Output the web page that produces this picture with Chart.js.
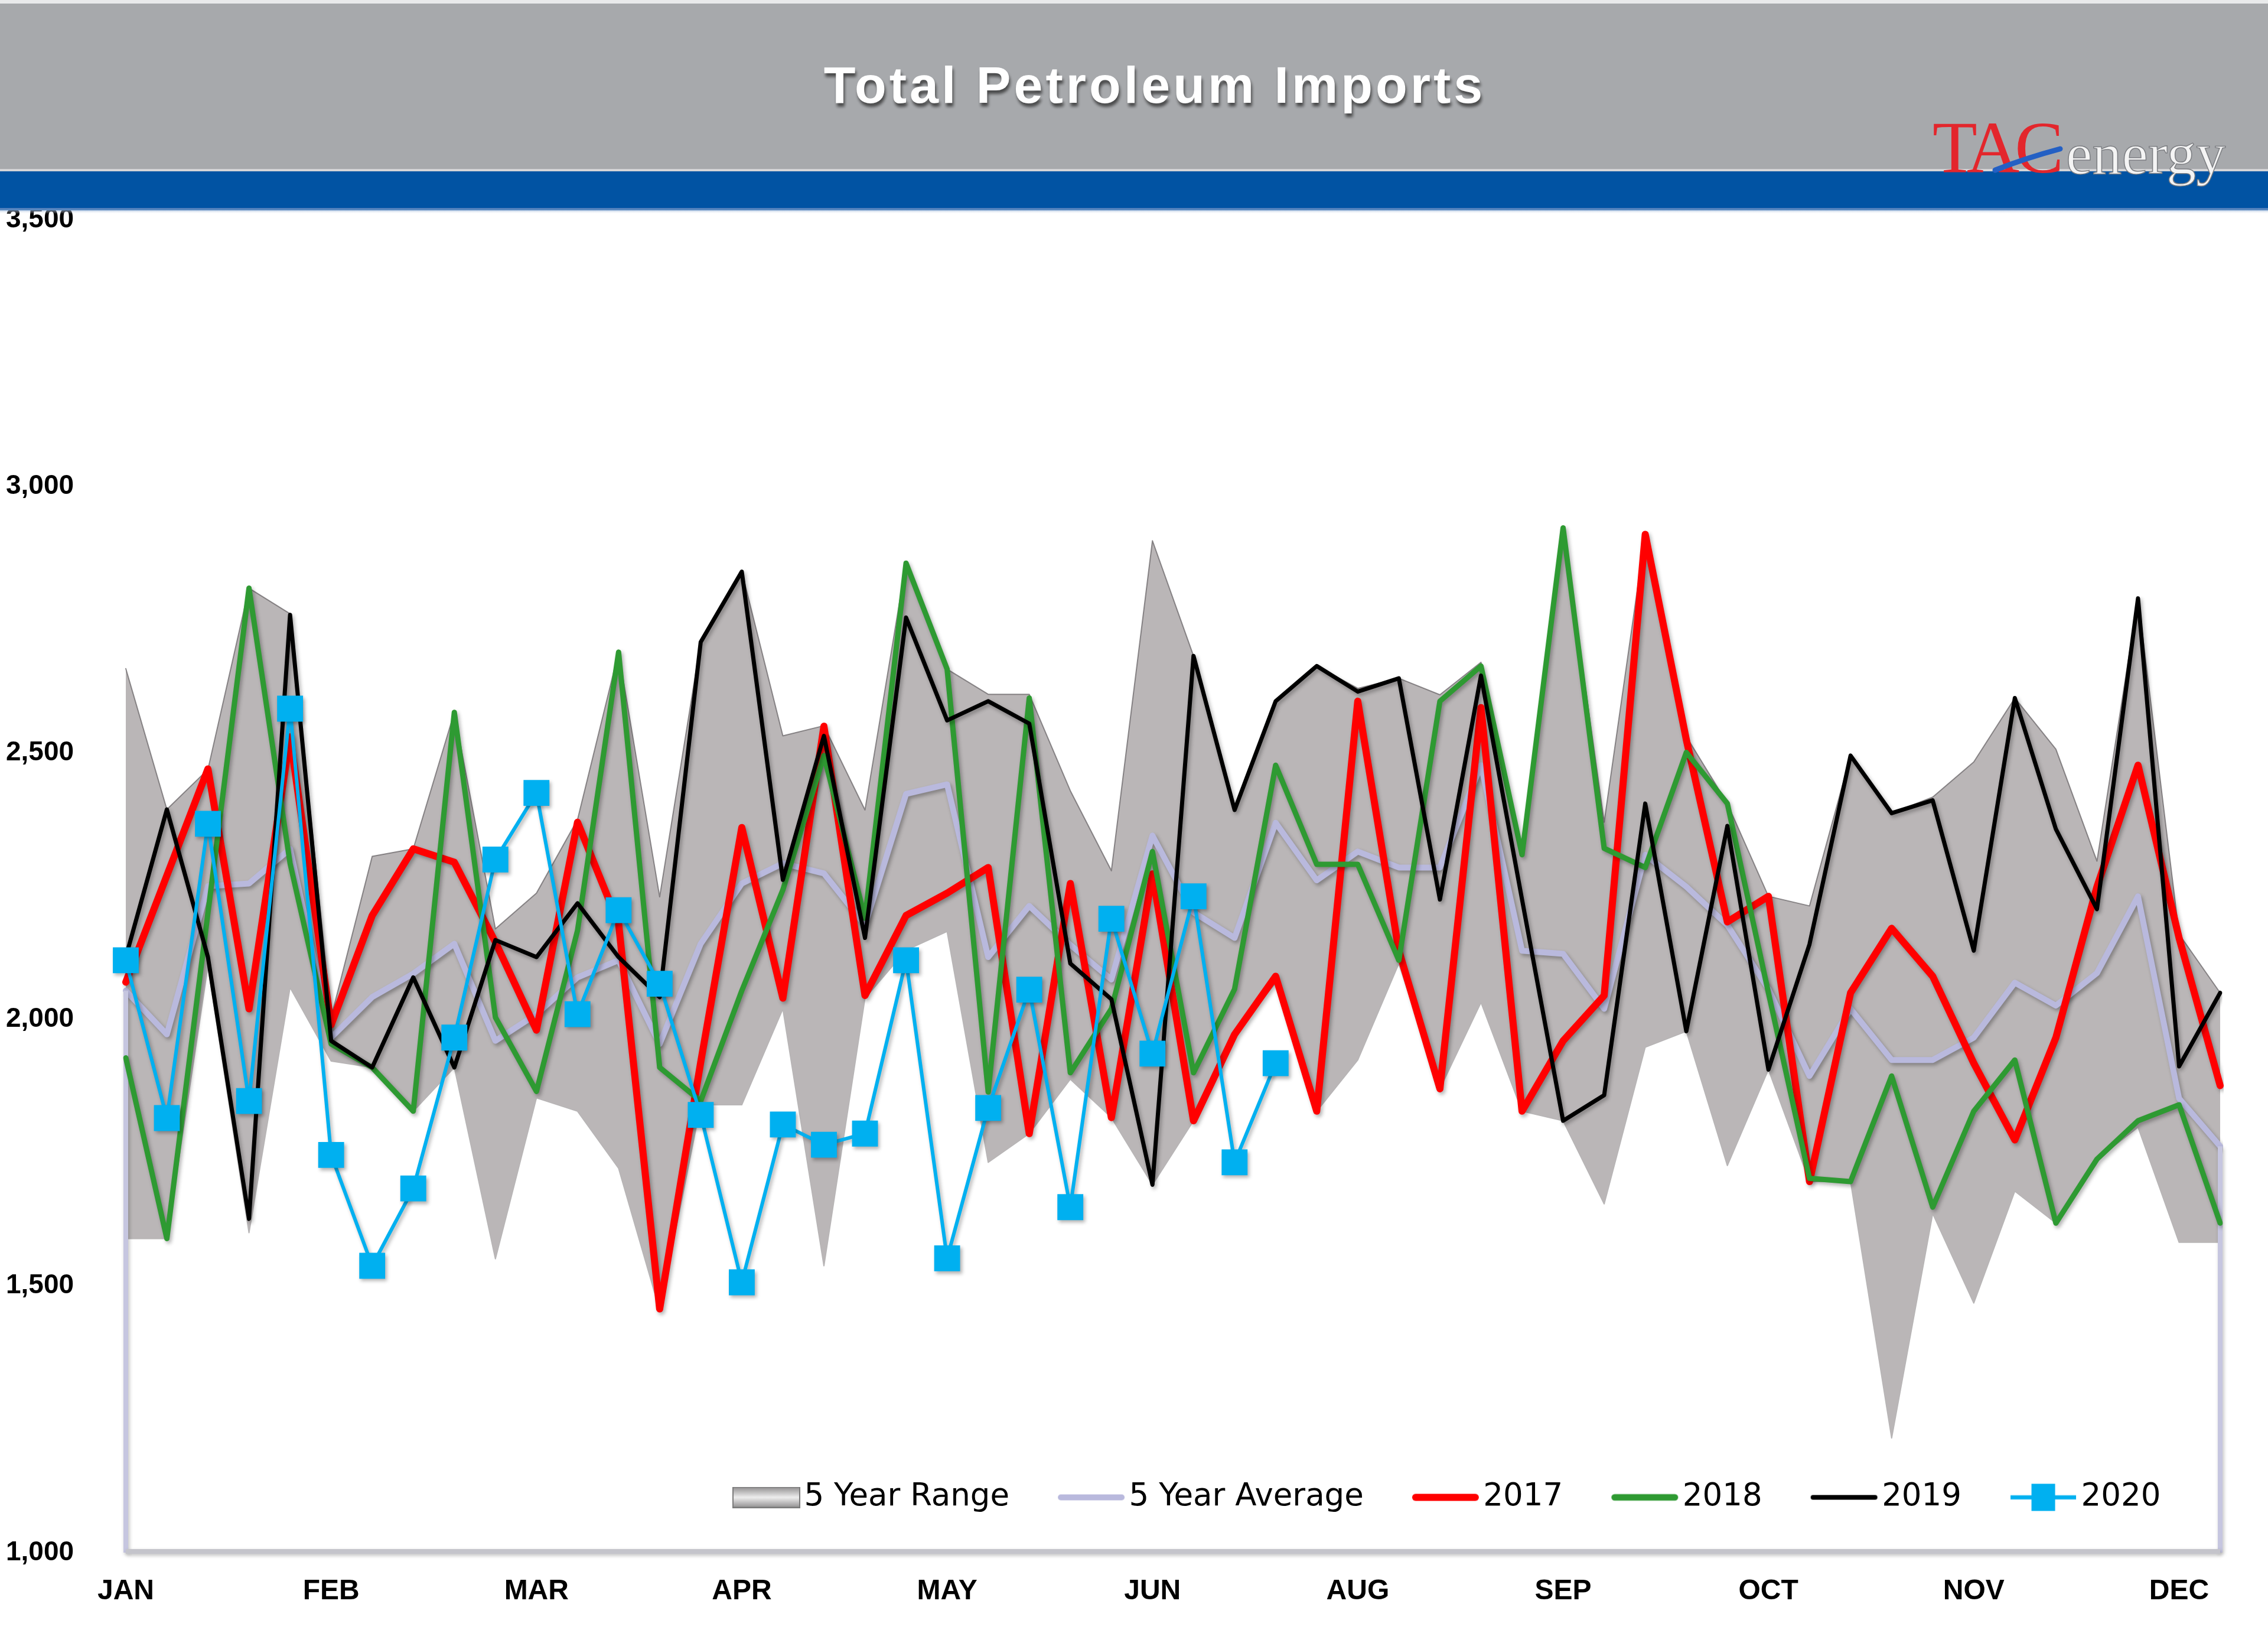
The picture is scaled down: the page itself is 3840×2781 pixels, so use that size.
<!DOCTYPE html>
<html>
<head>
<meta charset="utf-8">
<script src="https://cdn.jsdelivr.net/npm/chart.js@4.4.1/dist/chart.umd.min.js"></script>
<style>
html,body{margin:0;padding:0;background:#ffffff;}
canvas{display:block;}
</style>
</head>
<body>
<canvas id="c" width="3840" height="2781"></canvas>
<script>
// ---- DATA ----
const weeks = ['1','2','3','4','5','6','7','8','9','10','11','12','13','14','15','16','17','18','19','20',
  '21','22','23','24','25','26','27','28','29','30','31','32','33','34','35','36','37','38','39','40',
  '41','42','43','44','45','46','47','48','49','50','51','52'];
const monthTicks = ['JAN','FEB','MAR','APR','MAY','JUN','AUG','SEP','OCT','NOV','DEC'];
const yTicks = [1000, 1500, 2000, 2500, 3000, 3500];

const rangeMin = [1589,1589,2100,1600,2060,1922,1910,1828,1910,1551,1853,1828,1721,1455,1840,1840,2020,1538,2040,2130,
  2165,1732,1786,1888,1816,1690,1810,1972,2069,1828,1924,2105,1870,2032,1828,1810,1654,1948,1978,1726,
  1906,1696,1696,1215,1636,1468,1678,1618,1738,1798,1582,1582];
const rangeMax = [2658,2394,2469,2809,2761,2004,2306,2320,2576,2170,2237,2375,2689,2230,2708,2840,2532,2551,2393,2856,
  2657,2610,2610,2429,2279,2898,2682,2393,2597,2663,2621,2640,2609,2670,2310,2922,2370,2910,2531,2405,
  2231,2213,2495,2387,2417,2483,2603,2507,2297,2790,2160,2050];
const avg5 = [2054,1972,2250,2255,2320,1966,2042,2086,2142,1960,2010,2079,2111,1954,2142,2255,2293,2274,2177,2423,
  2441,2117,2213,2140,2075,2345,2201,2153,2369,2261,2315,2285,2285,2477,2129,2123,2020,2309,2249,2177,
  2057,1894,2020,1924,1924,1966,2069,2026,2087,2231,1852,1762];
const y2017 = [2070,2270,2470,2020,2530,1990,2195,2320,2295,2145,1980,2370,2180,1457,1920,2360,2040,2550,2045,2195,
  2237,2285,1786,2255,1816,2273,1810,1972,2081,1828,2597,2129,1870,2585,1828,1960,2045,2910,2525,2183,
  2231,1696,2050,2171,2081,1918,1774,1966,2249,2477,2153,1876];
const y2018 = [1928,1589,2200,2809,2293,1954,1910,1828,2576,2004,1865,2167,2689,1910,1847,2054,2243,2495,2190,2856,
  2657,1864,2603,1900,2020,2315,1900,2057,2477,2291,2291,2111,2597,2663,2309,2922,2321,2285,2501,2405,
  2050,1702,1696,1894,1648,1828,1924,1618,1738,1810,1840,1618];
const y2019 = [2117,2394,2117,1626,2759,1960,1910,2079,1910,2149,2117,2218,2117,2042,2708,2840,2262,2532,2153,2754,
  2561,2597,2555,2105,2038,1690,2682,2393,2597,2663,2615,2640,2225,2645,2225,1810,1858,2405,1978,2363,
  1906,2141,2495,2387,2411,2129,2603,2357,2207,2790,1912,2050];
const y2020 = [2111,1815,2367,1847,2583,1746,1538,1683,1966,2300,2425,2010,2205,2067,1821,1507,1803,1765,1786,2111,
  1552,1834,2056,1648,2189,1936,2231,1732,1918];

// ---- LEGEND ICONS ----
function makeIcon(w, h, draw) {
  const c = document.createElement('canvas');
  c.width = w; c.height = h;
  draw(c.getContext('2d'), w, h);
  return c;
}
function lineIcon(color, t) {
  return makeIcon(115, 16, (g, w, h) => {
    g.strokeStyle = color; g.lineWidth = t; g.lineCap = 'round';
    g.beginPath(); g.moveTo(t / 2 + 1, h / 2); g.lineTo(w - t / 2 - 1, h / 2); g.stroke();
  });
}
const rangeIcon = makeIcon(115, 36, (g, w, h) => {
  const gr = g.createLinearGradient(0, 0, 0, h);
  gr.addColorStop(0, '#8e8c8d');
  gr.addColorStop(0.5, '#eeeeee');
  gr.addColorStop(1, '#8e8c8d');
  g.fillStyle = gr;
  g.fillRect(1, 1, w - 2, h - 2);
  g.strokeStyle = '#7a7a7a'; g.lineWidth = 2;
  g.strokeRect(1, 1, w - 2, h - 2);
});
const icon2020 = makeIcon(115, 48, (g, w, h) => {
  g.strokeStyle = '#00b0f0'; g.lineWidth = 7;
  g.beginPath(); g.moveTo(2, h / 2); g.lineTo(w - 2, h / 2); g.stroke();
  g.fillStyle = '#00b0f0';
  g.fillRect(w / 2 - 20, 1, 40, h - 2);
});
const legendIcons = [null, rangeIcon, lineIcon('#b9b9dd', 10), lineIcon('#ff0000', 12), lineIcon('#2e9a32', 11), lineIcon('#000000', 8), icon2020];

// ---- PLUGINS ----
const shadowPlugin = {
  id: 'shadowPlugin',
  beforeDatasetDraw(chart, args) {
    const ds = chart.data.datasets[args.index];
    if (ds.shadow) {
      const c = chart.ctx;
      c.save();
      c.shadowColor = 'rgba(0,0,0,0.30)';
      c.shadowBlur = 6;
      c.shadowOffsetX = 3;
      c.shadowOffsetY = 4;
    }
  },
  afterDatasetDraw(chart, args) {
    const ds = chart.data.datasets[args.index];
    if (ds.shadow) chart.ctx.restore();
  }
};

const avgEdgesPlugin = {
  id: 'avgEdges',
  afterDatasetDraw(chart, args) {
    if (args.index !== 2) return;
    const c = chart.ctx, x = chart.scales.x, y = chart.scales.y;
    const d = chart.data.datasets[2].data;
    const yb = y.getPixelForValue(y.min);
    const x0 = x.getPixelForValue(0), x1 = x.getPixelForValue(d.length - 1);
    c.save();
    c.shadowColor = 'rgba(0,0,0,0.25)';
    c.shadowBlur = 6; c.shadowOffsetX = 2; c.shadowOffsetY = 3;
    c.strokeStyle = '#c6c6e0'; c.lineWidth = 8; c.lineCap = 'butt';
    c.beginPath();
    c.moveTo(x0, y.getPixelForValue(d[0])); c.lineTo(x0, yb);
    c.moveTo(x1, y.getPixelForValue(d[d.length - 1])); c.lineTo(x1, yb);
    c.stroke();
    c.strokeStyle = '#c4c4cb'; c.lineWidth = 8;
    c.beginPath(); c.moveTo(x0, yb - 2); c.lineTo(x1, yb - 2); c.stroke();
    c.restore();
  }
};

const legendPlacePlugin = {
  id: 'legendPlace',
  afterLayout(chart) {
    const lg = chart.legend;
    if (!lg) return;
    lg.left = 1159; lg.right = 3840;
    lg.top = 2407; lg.bottom = 2620;
  }
};

const headerPlugin = {
  id: 'header',
  afterDraw(chart) {
    const c = chart.ctx;
    c.save();
    c.fillStyle = '#e9eaeb'; c.fillRect(0, 0, 3840, 6);
    c.fillStyle = '#a7a9ac'; c.fillRect(0, 6, 3840, 282);
    c.fillStyle = '#d4d4d6'; c.fillRect(0, 286, 3840, 4);
    c.fillStyle = '#0153a3'; c.fillRect(0, 290, 3840, 66);
    const gr = c.createLinearGradient(0, 352, 0, 362);
    gr.addColorStop(0, '#4a78b8'); gr.addColorStop(1, 'rgba(255,255,255,0)');
    c.fillStyle = gr; c.fillRect(0, 352, 3840, 10);
    // title
    c.font = 'bold 88px "Liberation Sans", Arial, sans-serif';
    c.letterSpacing = '5px';
    c.textAlign = 'center'; c.textBaseline = 'middle';
    c.shadowColor = 'rgba(40,40,40,0.75)'; c.shadowBlur = 5; c.shadowOffsetX = 2; c.shadowOffsetY = 6;
    c.fillStyle = '#ffffff';
    c.fillText('Total Petroleum Imports', 1955, 150);
    c.shadowColor = 'transparent';
    // logo
    c.letterSpacing = '-8px';
    c.textAlign = 'left'; c.textBaseline = 'alphabetic';
    c.font = '124px "Liberation Serif", "Times New Roman", serif';
    c.fillStyle = '#e3262c';
    c.fillText('TAC', 3272, 292);
    c.letterSpacing = '0px';
    c.font = '100px "Liberation Serif", "Times New Roman", serif';
    c.fillStyle = '#f4f4f4'; c.strokeStyle = '#7c7e82'; c.lineWidth = 1.5;
    c.fillText('energy', 3498, 294);
    c.strokeText('energy', 3498, 294);
    c.strokeStyle = '#2460c4'; c.lineWidth = 9; c.lineCap = 'round';
    c.beginPath(); c.moveTo(3378, 288); c.quadraticCurveTo(3428, 268, 3488, 252); c.stroke();
    c.restore();
  }
};

// ---- CHART ----
const common = { pointRadius: 0, pointHoverRadius: 0, tension: 0, borderJoinStyle: 'round', borderCapStyle: 'round', fill: false };
new Chart(document.getElementById('c').getContext('2d'), {
  type: 'line',
  data: {
    labels: weeks,
    datasets: [
      Object.assign({}, common, { label: '5 Year Min', data: rangeMin, borderColor: 'rgba(120,117,119,0.55)', borderWidth: 2, order: 10 }),
      Object.assign({}, common, { label: '5 Year Range', data: rangeMax, borderColor: 'rgba(105,102,104,0.75)', borderWidth: 2, fill: '-1', backgroundColor: '#bab6b7', order: 9 }),
      Object.assign({}, common, { label: '5 Year Average', data: avg5, borderColor: '#b9b9dd', borderWidth: 10, order: 5, shadow: true }),
      Object.assign({}, common, { label: '2017', data: y2017, borderColor: '#ff0000', borderWidth: 12, order: 4, shadow: true }),
      Object.assign({}, common, { label: '2018', data: y2018, borderColor: '#2e9a32', borderWidth: 9, order: 3, shadow: true }),
      Object.assign({}, common, { label: '2019', data: y2019, borderColor: '#000000', borderWidth: 7, order: 2, shadow: true }),
      Object.assign({}, common, { label: '2020', data: y2020, borderColor: '#00b0f0', borderWidth: 6, order: 1, shadow: true,
        pointStyle: 'rect', pointRadius: 31, pointHoverRadius: 31, pointBackgroundColor: '#00b0f0', pointBorderWidth: 0 })
    ]
  },
  options: {
    responsive: false,
    animation: false,
    devicePixelRatio: 1,
    events: [],
    layout: { padding: { left: 10, right: 81, top: 372, bottom: 0 } },
    plugins: {
      title: { display: false },
      tooltip: { enabled: false },
      legend: {
        position: 'bottom',
        align: 'start',
        maxHeight: 1,
        labels: {
          usePointStyle: true,
          pointStyleWidth: 75,
          boxWidth: 75,
          boxHeight: 40,
          padding: 101,
          color: '#000000',
          font: { family: '"DejaVu Sans", sans-serif', size: 53 },
          generateLabels(chart) {
            return chart.data.datasets.map((ds, i) => ({
              text: ds.label, datasetIndex: i, pointStyle: legendIcons[i],
              fillStyle: 'transparent', strokeStyle: 'transparent', lineWidth: 0,
              fontColor: '#000000', hidden: false
            })).filter(it => it.datasetIndex !== 0);
          }
        }
      }
    },
    scales: {
      x: {
        grid: { display: false },
        border: { display: false },
        ticks: {
          autoSkip: false, maxRotation: 0, minRotation: 0, padding: 29, color: '#000000',
          font: { family: '"Liberation Sans", Arial, sans-serif', weight: 'bold', size: 48 },
          callback: (v, i) => (i % 5 === 0 ? monthTicks[i / 5] : '')
        },
        afterFit: s => { s.height = 152; }
      },
      y: {
        min: yTicks[0], max: yTicks[yTicks.length - 1],
        grid: { display: false },
        border: { display: false },
        afterBuildTicks: s => { s.ticks = yTicks.map(v => ({ value: v })); },
        ticks: {
          crossAlign: 'far', color: '#000000',
          font: { family: '"Liberation Sans", Arial, sans-serif', weight: 'bold', size: 46 },
          callback: v => v.toLocaleString('en-US')
        },
        afterFit: s => { s.width = 203; }
      }
    }
  },
  plugins: [shadowPlugin, avgEdgesPlugin, legendPlacePlugin, headerPlugin]
});
</script>
</body>
</html>
